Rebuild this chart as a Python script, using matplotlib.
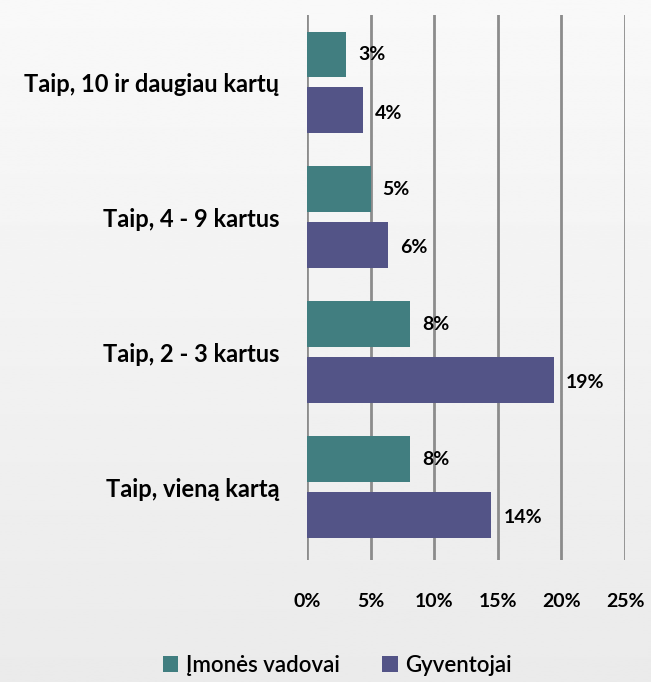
import numpy as np
import matplotlib.pyplot as plt

categories = ["Taip, vieną kartą", "Taip, 2 - 3 kartus", "Taip, 4 - 9 kartus", "Taip, 10 ir daugiau kartų"]
vadovai = [8.1, 8.1, 5.0, 3.1]
gyventojai = [14.5, 19.4, 6.4, 4.4]
vadovai_labels = ["8%", "8%", "5%", "3%"]
gyventojai_labels = ["14%", "19%", "6%", "4%"]
xticks = [0, 5, 10, 15, 20, 25]

plt.rcParams['font.family'] = ['Lato', 'DejaVu Sans']
plt.rcParams['font.weight'] = 'bold'

fig = plt.figure(figsize=(6.51, 6.82), dpi=100)

# soft vertical gradient background
bg = fig.add_axes([0, 0, 1, 1], zorder=-1)
grad = np.linspace(0.975, 0.92, 256).reshape(-1, 1)
bg.imshow(grad, aspect='auto', cmap='gray', vmin=0, vmax=1, extent=[0, 1, 0, 1])
bg.axis('off')

ax = fig.add_axes([0.4716, 0.179, 0.4885, 0.799])
ax.set_facecolor('none')

y = np.arange(len(categories))
h = 0.34
off = 0.207
teal = '#417e80'
purple = '#535487'

ax.barh(y + off, vadovai, height=h, color=teal, label='Įmonės vadovai', zorder=3)
ax.barh(y - off, gyventojai, height=h, color=purple, label='Gyventojai', zorder=3)

for i in range(len(categories)):
    ax.text(vadovai[i] + 0.95, y[i] + off, vadovai_labels[i], va='center', ha='left',
            fontsize=14, fontweight='bold', color='black')
    ax.text(gyventojai[i] + 0.95, y[i] - off - 0.02, gyventojai_labels[i], va='center', ha='left',
            fontsize=14, fontweight='bold', color='black')

ax.set_xlim(0, 25)
ax.set_ylim(-0.54, 3.5)
ax.set_xticks(xticks)
ax.set_xticklabels([f"{t}%" for t in xticks], fontsize=14, fontweight='bold')
ax.set_yticks(y)
ax.set_yticklabels(categories, fontsize=17, fontweight='bold')
ax.tick_params(axis='x', length=0, pad=24)
ax.tick_params(axis='y', length=0, pad=20)
ax.grid(axis='x', color='#8c8c8c', linewidth=2, zorder=0)
for s in ax.spines.values():
    s.set_visible(False)

ax.legend(loc='upper center', bbox_to_anchor=(0.095, -0.137), ncol=2, frameon=False,
          handlelength=0.7, handleheight=0.7, columnspacing=1.9,
          handletextpad=0.35, prop={'weight': 'semibold', 'size': 16})

fig.savefig('out.png', dpi=100)
